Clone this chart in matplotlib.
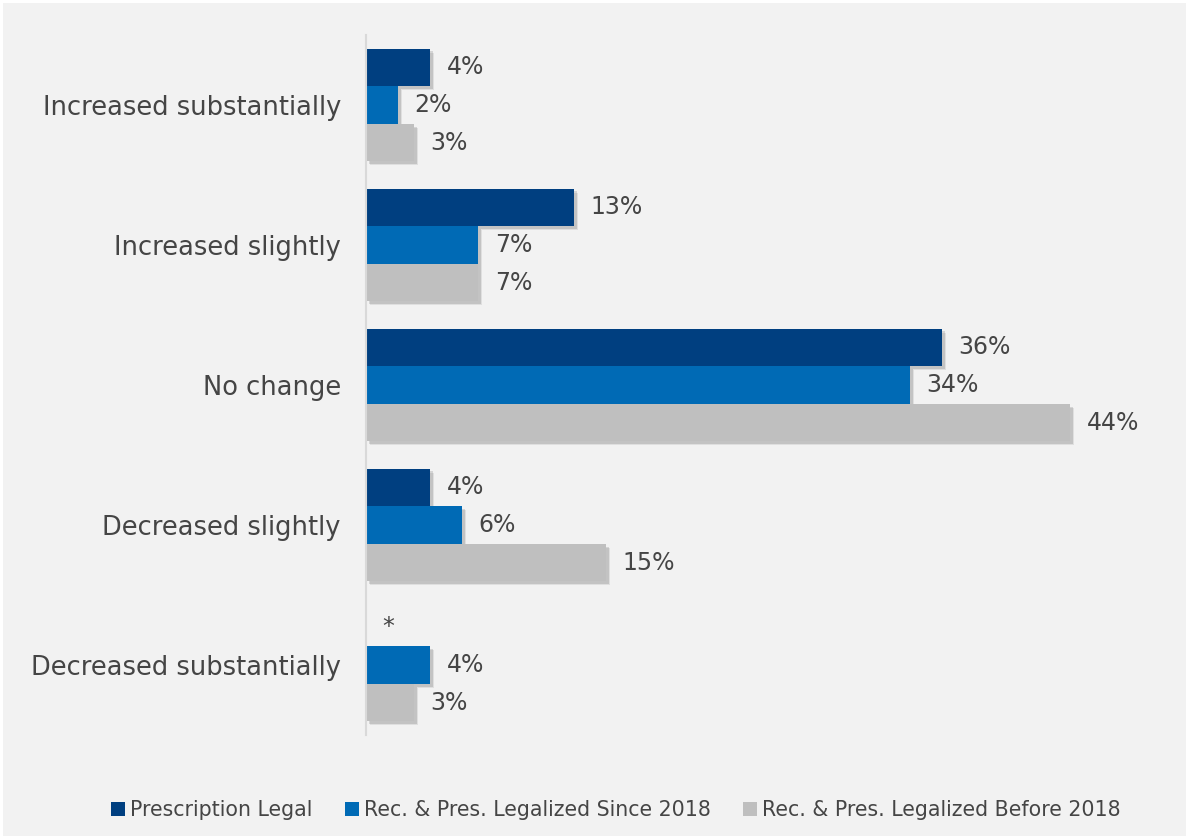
import matplotlib.pyplot as plt
import matplotlib.patheffects as pe
from matplotlib.patches import Rectangle, Patch
import numpy as np

categories = ['Increased substantially', 'Increased slightly', 'No change',
              'Decreased slightly', 'Decreased substantially']
series_names = ['Prescription Legal', 'Rec. & Pres. Legalized Since 2018',
                'Rec. & Pres. Legalized Before 2018']
presc_legal = [4, 13, 36, 4, np.nan]  # nan -> shown as "*"
since_2018 = [2, 7, 34, 6, 4]
before_2018 = [3, 7, 44, 15, 3]

colors = ['#003F80', '#006AB5', '#BFBFBF']
text_color = '#454545'

fig = plt.figure(figsize=(11.9, 8.39), dpi=100)
fig.patch.set_facecolor('white')
fig.patches.append(Rectangle((3 / 1190, 3 / 839), 1183 / 1190, 833 / 839,
                             transform=fig.transFigure, facecolor='#F2F2F2',
                             edgecolor='none', zorder=-10))

ax = fig.add_axes([366 / 1190, 1 - 735 / 839, 800 / 1190, 700 / 839])
ax.set_facecolor('none')

y = np.arange(len(categories))
h = 0.268
shadow = [pe.SimplePatchShadow(offset=(3, -3), shadow_rgbFace='k', alpha=0.08),
          pe.SimplePatchShadow(offset=(2, -2), shadow_rgbFace='k', alpha=0.12),
          pe.Normal()]

for i, vals in enumerate([presc_legal, since_2018, before_2018]):
    pos = y + (i - 1) * h
    vals = np.array(vals, dtype=float)
    bars = ax.barh(pos, np.nan_to_num(vals), height=h, color=colors[i])
    for b, v in zip(bars, vals):
        if v > 0:
            b.set_path_effects(shadow)
    labels = ['*' if np.isnan(v) else f'{int(v)}%' for v in vals]
    txts = ax.bar_label(bars, labels=labels, padding=12, fontsize=17, color=text_color)
    for t in txts:
        t.set_va('center')

ax.set_ylim(len(categories) - 0.5, -0.5)
ax.set_xlim(0, 50)
ax.set_yticks(y)
ax.set_yticklabels(categories, fontsize=18.5, color=text_color)
ax.tick_params(axis='y', length=0, pad=18)
ax.set_xticks([])
for s in ['top', 'right', 'bottom']:
    ax.spines[s].set_visible(False)
ax.spines['left'].set_color('#D9D9D9')
ax.spines['left'].set_linewidth(1.5)

handles = [Patch(facecolor=c, edgecolor='none') for c in colors]
fig.legend(handles, series_names, loc='center',
           bbox_to_anchor=(616 / 1190, 1 - 810 / 839), ncol=3,
           frameon=False, fontsize=14.8, handlelength=0.65, handleheight=0.65,
           handletextpad=0.25, columnspacing=1.6, labelcolor=text_color)

fig.savefig('out.png', dpi=100)
